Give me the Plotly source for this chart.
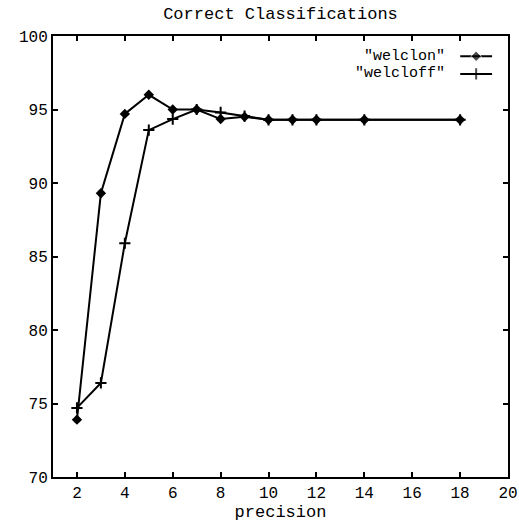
import plotly.graph_objects as go

precision_on = [2, 3, 4, 5, 6, 7, 8, 9, 10, 11, 12, 14, 18]
welclon = [73.9, 89.3, 94.7, 96.0, 95.0, 95.0, 94.35, 94.5, 94.3, 94.3, 94.3, 94.3, 94.3]

precision_off = [2, 3, 4, 5, 6, 7, 8, 9, 10, 11, 12, 14, 18]
welcloff = [74.7, 76.4, 85.9, 93.6, 94.35, 95.0, 94.8, 94.55, 94.3, 94.3, 94.3, 94.3, 94.3]

x_ticks = [2, 4, 6, 8, 10, 12, 14, 16, 18, 20]
y_ticks = [70, 75, 80, 85, 90, 95, 100]

FONT = "Liberation Mono, Courier New, monospace"

fig = go.Figure()
fig.add_trace(go.Scatter(
    x=precision_on, y=welclon, mode="lines+markers", name='"welclon"',
    line=dict(color="black", width=2),
    marker=dict(symbol="diamond", size=8, color="black"),
    showlegend=False))
fig.add_trace(go.Scatter(
    x=precision_off, y=welcloff, mode="lines+markers", name='"welcloff"',
    line=dict(color="black", width=2),
    marker=dict(symbol="cross-thin", size=8, color="black",
                line=dict(color="black", width=2)),
    showlegend=False))

# legend keys (symbol to the right of the label, as in the reference)
key_x = [0.895, 0.930, 0.965]
key_rows = [0.954, 0.914]
fig.add_trace(go.Scatter(
    x=key_x, y=[key_rows[0]] * 3, xaxis="x2", yaxis="y2", mode="lines+markers",
    line=dict(color="black", width=2),
    marker=dict(symbol="diamond", size=[0, 8, 0], color="black"),
    showlegend=False, hoverinfo="skip"))
fig.add_trace(go.Scatter(
    x=key_x, y=[key_rows[1]] * 3, xaxis="x2", yaxis="y2", mode="lines+markers",
    line=dict(color="black", width=2),
    marker=dict(symbol="cross-thin", size=[0, 8, 0], color="black",
                line=dict(color="black", width=2)),
    showlegend=False, hoverinfo="skip"))

for label, yy in zip(['"welclon"', '"welcloff"'], key_rows):
    fig.add_annotation(x=0.866, y=yy, xref="paper", yref="paper", text=label,
                       showarrow=False, xanchor="right", yanchor="middle",
                       font=dict(family=FONT, size=15, color="black"))

fig.update_layout(
    width=519, height=524,
    margin=dict(l=53, r=11, t=36, b=47, autoexpand=False),
    paper_bgcolor="white", plot_bgcolor="white",
    font=dict(family=FONT, size=16, color="black"),
    title=dict(text="Correct Classifications", x=0.5, xref="paper",
               y=0.975, yref="container", yanchor="middle",
               font=dict(family=FONT, size=17, color="black")),
    xaxis=dict(range=[1, 20], tickvals=x_ticks, ticks="inside", ticklen=5,
               tickwidth=1.5, tickcolor="black", showline=True, linecolor="black",
               linewidth=2, mirror="allticks", showgrid=False, zeroline=False,
               automargin=False,
               title=dict(text="precision", standoff=0,
                          font=dict(family=FONT, size=17))),
    yaxis=dict(range=[70, 100], tickvals=y_ticks, ticks="inside", ticklen=5,
               tickwidth=1.5, tickcolor="black", showline=True, linecolor="black",
               linewidth=2, mirror="allticks", showgrid=False, zeroline=False,
               automargin=False),
    xaxis2=dict(range=[0, 1], overlaying="x", visible=False, fixedrange=True),
    yaxis2=dict(range=[0, 1], overlaying="y", visible=False, fixedrange=True),
)

fig.write_html("out.html",
               config={"displayModeBar": False},
               post_script="document.body.style.margin='0';"
                           "document.body.style.overflow='hidden';")
